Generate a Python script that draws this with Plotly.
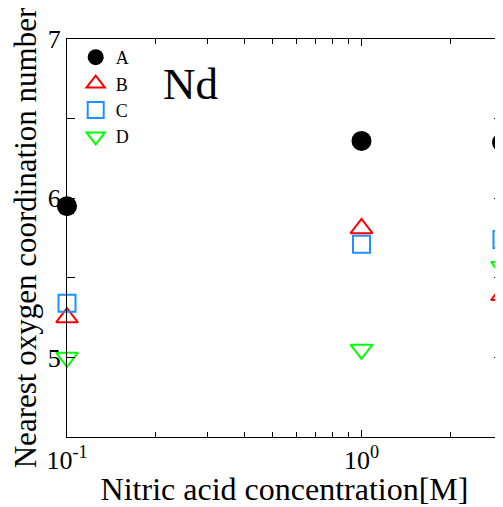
import plotly.graph_objects as go
import math

x_conc = [0.1, 1.0, 3.0]
series_names = ["A", "B", "C", "D"]
y_A = [5.95, 6.36, 6.35]
y_B = [5.25, 5.81, 5.39]
y_C = [5.34, 5.71, 5.74]
y_D = [5.00, 5.05, 5.57]

x_major_vals = [0.1, 1.0]
x_major_text = ["10<sup>-1</sup>", "10<sup>0</sup>"]
x_minor_vals = [0.2, 0.3, 0.4, 0.5, 0.6, 0.7, 0.8, 0.9, 2.0]
y_major_vals = [5, 6, 7]
y_major_text = ["5", "6", "7"]

FONT = "Liberation Serif, Times New Roman, serif"

styles = [
    dict(symbol="circle", color="black", size=20, line=dict(width=0)),
    dict(symbol="triangle-up-open", color="#ff0000", size=19, line=dict(width=2, color="#ff0000")),
    dict(symbol="square-open", color="#1e90ff", size=17, line=dict(width=2, color="#1e90ff")),
    dict(symbol="triangle-down-open", color="#00ff00", size=19, line=dict(width=2, color="#00ff00")),
]

fig = go.Figure()
for name, ys, st in zip(series_names, [y_A, y_B, y_C, y_D], styles):
    fig.add_trace(go.Scatter(x=x_conc, y=ys, mode="markers", name=name,
                             marker=st, cliponaxis=False))

fig.add_annotation(text="Nd", xref="paper", yref="paper", x=0.283, y=0.887,
                   showarrow=False, xanchor="center", yanchor="middle",
                   font=dict(family=FONT, size=45, color="black"))

# page body has an 8px margin, so the figure is sized to fit 503x507 window
fig.update_layout(
    width=495, height=499,
    margin=dict(l=59, r=1, t=31, b=70),
    paper_bgcolor="white", plot_bgcolor="white",
    font=dict(family=FONT, color="black"),
    showlegend=True,
    legend=dict(x=0.02, y=1.0, xanchor="left", yanchor="top",
                bgcolor="rgba(0,0,0,0)", font=dict(family=FONT, size=18),
                itemsizing="trace", tracegroupgap=0),
    xaxis=dict(type="log", range=[-1, math.log10(3)], automargin=False,
               tickmode="array", tickvals=x_major_vals, ticktext=x_major_text,
               ticks="inside", ticklen=7, tickcolor="black", tickwidth=1,
               minor=dict(tickmode="array", tickvals=x_minor_vals, ticks="inside",
                          ticklen=5, tickcolor="black", showgrid=False),
               showline=True, linecolor="black", linewidth=1.3, mirror="ticks",
               showgrid=False, zeroline=False,
               tickfont=dict(family=FONT, size=26),
               title=dict(text="Nitric acid concentration[M]", standoff=4,
                          font=dict(family=FONT, size=32))),
    yaxis=dict(range=[4.5, 7], automargin=False,
               tickmode="array", tickvals=y_major_vals, ticktext=y_major_text,
               ticks="inside", ticklen=8, tickcolor="black",
               minor=dict(dtick=0.5, ticks="inside", ticklen=8, tickcolor="black", showgrid=False),
               showline=True, linecolor="black", linewidth=1.3, mirror="ticks",
               showgrid=False, zeroline=False,
               tickfont=dict(family=FONT, size=26),
               title=dict(text="Nearest oxygen coordination number", standoff=2,
                          font=dict(family=FONT, size=31))),
)

fig.write_html("out.html")
